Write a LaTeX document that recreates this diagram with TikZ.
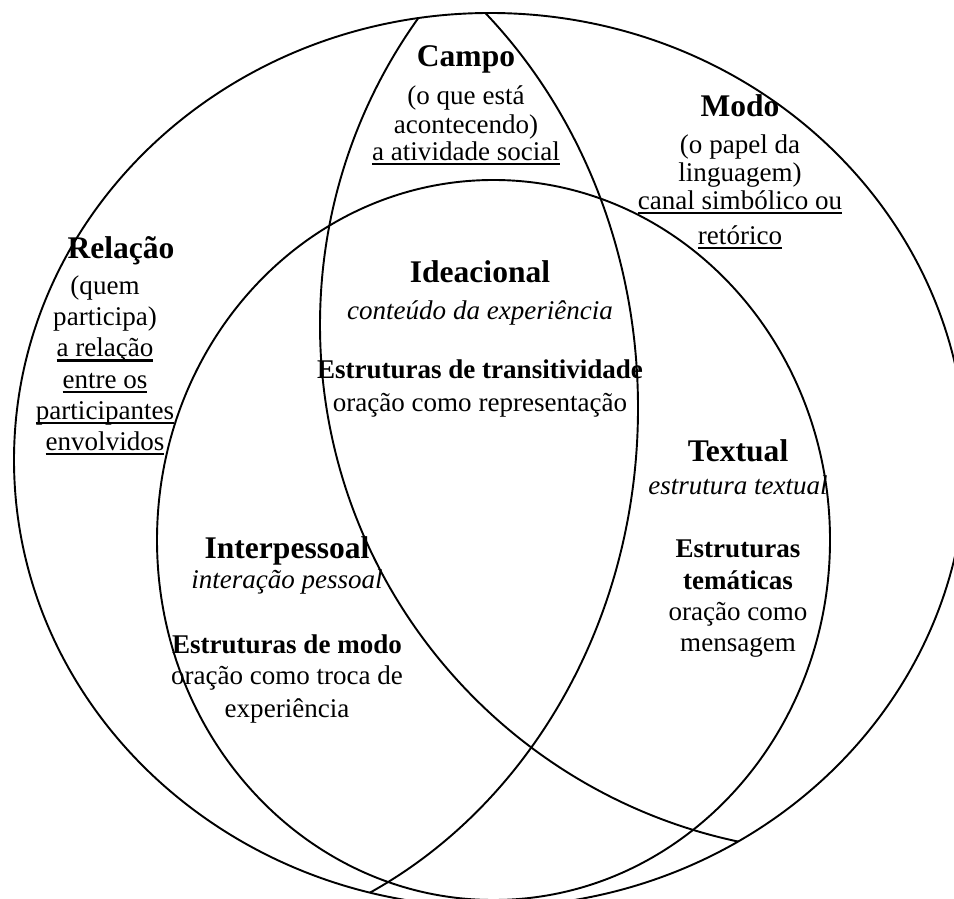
\documentclass[tikz,border=0pt]{standalone}
\usepackage{fontspec}
\setmainfont{Liberation Serif}
\usepackage{tikz}
\usetikzlibrary{positioning}

\newsavebox{\sublinhabox}
\newcommand{\sublinha}[1]{\sbox{\sublinhabox}{#1}\rlap{\rule[-2.2pt]{\wd\sublinhabox}{1.1pt}}\usebox{\sublinhabox}}

\begin{document}
\begin{tikzpicture}[x=0.444pt,y=-0.444pt,line width=0.85pt,
                 		   node distance=6pt]
 				\tikzstyle{titulo}=[font=\fontsize{14}{16}\selectfont\bfseries,inner sep=0pt,anchor=base,text depth=0pt]
 				\tikzstyle{corpo}=[font=\fontsize{12}{13.8}\selectfont,align=center,inner sep=0pt,anchor=north]

				\useasboundingbox (0,0) rectangle (954,899);
				\clip (0,0) rectangle (954,899);
				\draw (490,460) ellipse [x radius=476, y radius=447];
				\begin{scope}
					\clip (490,460) ellipse [x radius=476, y radius=447];
					\draw (848,325) circle [radius=528];
					\draw (158,408) ellipse [x radius=480, y radius=540];
					\draw (493.5,540) ellipse [x radius=336.5, y radius=360];
				\end{scope}

				\node[titulo]	(campo)		at (466,67)		{Campo};
				\node[corpo]	(campotxt)	[below=6.3pt of campo]
					{\strut(o que está\\[-1pt]acontecendo)\\[-2pt]\sublinha{a atividade social}};

				\node[titulo]	(modo)		at (740,117)	{Modo};
				\node[corpo]	(modotxt)	[below=5.7pt of modo]
					{\strut(o papel da\\[-1.4pt]linguagem)\\[-1.4pt]\sublinha{canal simbólico ou}\\[1.8pt]\sublinha{retórico}};

				\node[titulo]	(relacao)	at (121,259)	{Relação};
				\node[corpo]	(relacaotxt)	[below=5.4pt of relacao,xshift=-7.1pt]
					{\strut(quem\\participa)\\\sublinha{a relação}\\\sublinha{entre os}\\\sublinha{participantes}\\\sublinha{envolvidos}};

				\node[titulo]	(ideacional)	at (480,283)	{Ideacional};
				\node[corpo]	(ideacionaltxt)	[below=5.6pt of ideacional]
					{\strut\textit{conteúdo da experiência}\\[12.4pt]\textbf{Estruturas de transitividade}\\[1pt]oração como representação};

				\node[titulo]	(textual)	at (738,462)	{Textual};
				\node[corpo]	(textualtxt)	[below=4.1pt of textual]
					{\strut\textit{estrutura textual}\\[14.2pt]\textbf{Estruturas}\\\textbf{temáticas}\\oração como\\mensagem};

				\node[titulo]	(interpessoal)	at (287,558)	{Interpessoal};
				\node[corpo]	(interpessoaltxt)	[below=3.2pt of interpessoal]
					{\strut\textit{interação pessoal}\\[15pt]\textbf{Estruturas de modo}\\oração como troca de\\[0.8pt]experiência};
	\end{tikzpicture}
\end{document}
